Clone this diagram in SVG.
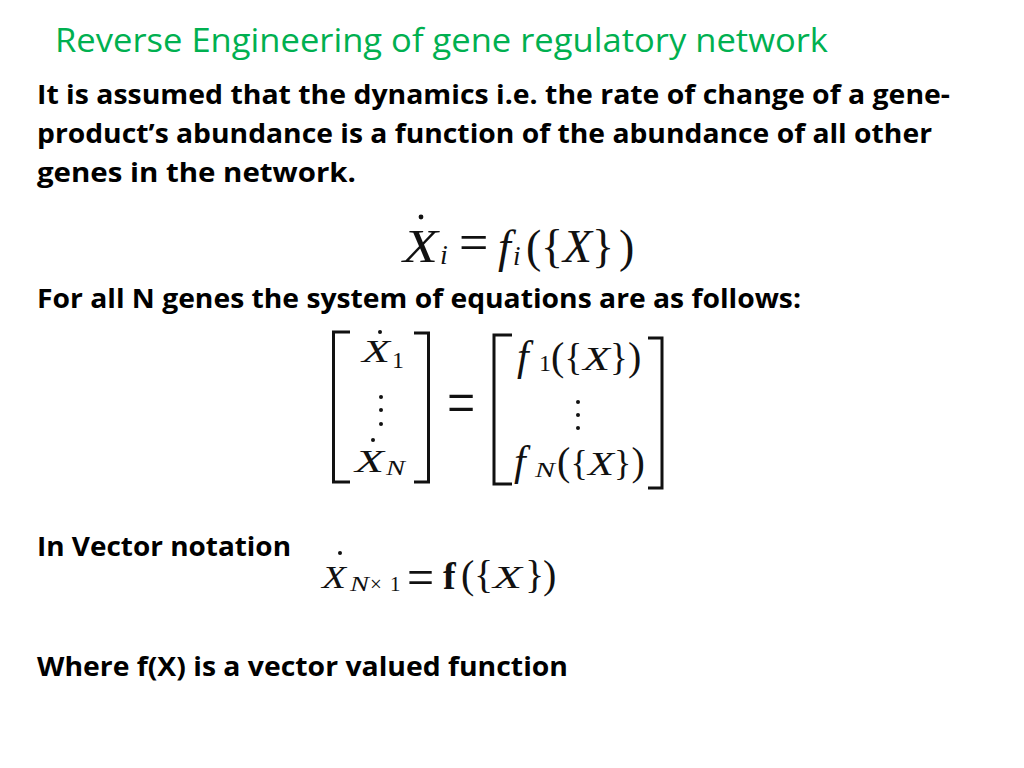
<svg xmlns="http://www.w3.org/2000/svg" width="1024" height="768" viewBox="0 0 1024 768">
<style>
.title{font-family:"Open Sans","Liberation Sans",sans-serif;font-size:33px;fill:#00B050}
.body{font-family:"Open Sans","Liberation Sans",sans-serif;font-size:27px;font-weight:bold;fill:#000}
.m{font-family:"Liberation Serif","DejaVu Serif",serif;fill:#111}
.it{font-style:italic}
.br{fill:none;stroke:#111;stroke-width:3}
.dot{fill:#111}
</style>
<rect width="1024" height="768" fill="#fff"/>
<g id="title"><text class="title" x="55" y="52" textLength="773" lengthAdjust="spacingAndGlyphs">Reverse Engineering of gene regulatory network</text></g>
<g id="body">
<text class="body" x="37" y="104" textLength="913" lengthAdjust="spacingAndGlyphs">It is assumed that the dynamics i.e. the rate of change of a gene-</text>
<text class="body" x="37" y="143" textLength="895" lengthAdjust="spacingAndGlyphs">product’s abundance is a function of the abundance of all other</text>
<text class="body" x="37" y="182" textLength="319" lengthAdjust="spacingAndGlyphs">genes in the network.</text>
<text class="body" x="37" y="308" textLength="764" lengthAdjust="spacingAndGlyphs">For all N genes the system of equations are as follows:</text>
<text class="body" x="37" y="556" textLength="254" lengthAdjust="spacingAndGlyphs">In Vector notation</text>
<text class="body" x="37" y="676" textLength="531" lengthAdjust="spacingAndGlyphs">Where f(X) is a vector valued function</text>
</g>
<g id="eq1">
<circle class="dot" cx="421" cy="217" r="2.4"/>
<text class="m" y="262" font-size="46"><tspan class="it" x="403" textLength="35" lengthAdjust="spacingAndGlyphs">X</tspan><tspan class="it" x="440" y="264" font-size="28">i</tspan><tspan x="459" y="260" font-size="52">=</tspan><tspan class="it" x="498" y="262">f</tspan><tspan class="it" x="513" y="265" font-size="27">i</tspan><tspan x="526" y="262">(</tspan><tspan x="541">{</tspan><tspan class="it" x="563" textLength="29" lengthAdjust="spacingAndGlyphs">X</tspan><tspan x="592">}</tspan><tspan x="619">)</tspan></text>
</g>
<g id="eq-matrix">
<path class="br" d="M350,332 H333.5 V482 H350"/>
<path class="br" d="M414,333 H428.5 V482 H414"/>
<path class="br" d="M512,335 H494 V484 H512"/>
<path class="br" d="M648,338 H662 V488 H648"/>
<circle class="dot" cx="380" cy="332" r="2"/>
<text class="m" y="362" font-size="32"><tspan class="it" x="362" textLength="28" lengthAdjust="spacingAndGlyphs">X</tspan><tspan x="392" y="368" font-size="24">1</tspan></text>
<circle class="dot" cx="381" cy="397" r="2"/>
<circle class="dot" cx="381" cy="410" r="2"/>
<circle class="dot" cx="381" cy="424" r="2"/>
<circle class="dot" cx="373" cy="440" r="2"/>
<text class="m" y="472" font-size="32"><tspan class="it" x="355" textLength="29" lengthAdjust="spacingAndGlyphs">X</tspan><tspan class="it" x="386" y="475" font-size="20" textLength="19" lengthAdjust="spacingAndGlyphs">N</tspan></text>
<text class="m" font-size="50" transform="translate(447,425) scale(1,1.3)">=</text>
<text class="m" y="370" font-size="42"><tspan class="it" x="517">f</tspan><tspan x="539" y="371" font-size="24">1</tspan><tspan x="551" y="370" font-size="40">(</tspan><tspan x="564.5" font-size="37">{</tspan><tspan class="it" x="583" font-size="33" textLength="27" lengthAdjust="spacingAndGlyphs">X</tspan><tspan x="610" font-size="37">}</tspan><tspan x="628" font-size="40">)</tspan></text>
<circle class="dot" cx="578" cy="402" r="2"/>
<circle class="dot" cx="578" cy="415" r="2"/>
<circle class="dot" cx="578" cy="428" r="2"/>
<text class="m" y="475" font-size="42"><tspan class="it" x="514">f</tspan><tspan class="it" x="535" y="477" font-size="22" textLength="20" lengthAdjust="spacingAndGlyphs">N</tspan><tspan x="557" y="475" font-size="40">(</tspan><tspan x="570.5" font-size="36">{</tspan><tspan class="it" x="588" font-size="33" textLength="26" lengthAdjust="spacingAndGlyphs">X</tspan><tspan x="614" font-size="36">}</tspan><tspan x="631.5" font-size="40">)</tspan></text>
</g>
<g id="eq-vector">
<circle class="dot" cx="340" cy="553" r="2"/>
<text class="m" y="588" font-size="32"><tspan class="it" x="322" textLength="24" lengthAdjust="spacingAndGlyphs">X</tspan><tspan class="it" x="350" y="591" font-size="21" textLength="19" lengthAdjust="spacingAndGlyphs">N</tspan><tspan x="370" font-size="21">×</tspan><tspan x="390" font-size="21">1</tspan></text>
<text class="m" font-size="48" transform="translate(407,595) scale(1,1.1)">=</text>
<text class="m" y="589" font-size="38"><tspan x="443" font-weight="bold">f</tspan><tspan x="461" y="588" font-size="40">(</tspan><tspan x="474" font-size="40">{</tspan><tspan class="it" x="493" font-size="32" textLength="29" lengthAdjust="spacingAndGlyphs">X</tspan><tspan x="525" font-size="40">}</tspan><tspan x="543" font-size="40">)</tspan></text>
</g>
</svg>
